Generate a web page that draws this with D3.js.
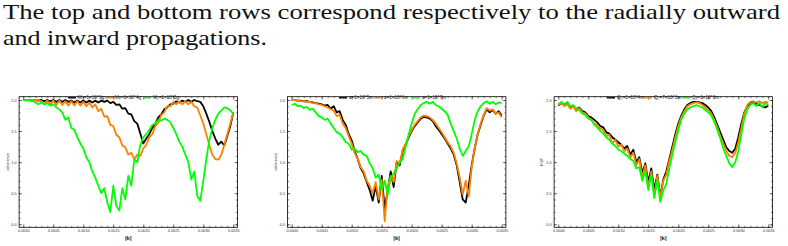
<!DOCTYPE html>
<html><head><meta charset="utf-8">
<script src="https://cdn.jsdelivr.net/npm/d3@7"></script>
<style>
html,body{margin:0;padding:0;background:#fff;}
svg{display:block;}
.caption{font-family:"Liberation Serif","DejaVu Serif","Noto Serif","Times New Roman",Times,Tinos,FreeSerif,"Nimbus Roman","Nimbus Roman No9 L",Georgia,serif;}
.small{font-family:"Liberation Sans","DejaVu Sans",sans-serif;}
</style></head>
<body>
<svg id="chart" width="788" height="246"></svg>
<script>
// ---------------- DATA ----------------
const captionLines = [
  "The top and bottom rows correspond respectively to the radially outward",
  "and inward propagations."
];
const kValues = [0,0.00005,0.0001,0.00015,0.0002,0.00025,0.0003,0.00035,0.0004,0.00045,
 0.0005,0.00055,0.0006,0.00065,0.0007,0.00075,0.0008,0.00085,0.0009,0.00095,
 0.001,0.00105,0.0011,0.00115,0.0012,0.00125,0.0013,0.00135,0.0014,0.00145,
 0.0015,0.00155,0.0016,0.00165,0.0017,0.00175,0.0018,0.00185,0.0019,0.00195,
 0.002,0.00205,0.0021,0.00215,0.0022,0.00225,0.0023,0.00235,0.0024,0.00245,
 0.0025,0.00255,0.0026,0.00265,0.0027,0.00275,0.0028,0.00285,0.0029,0.00295,
 0.003,0.00305,0.0031,0.00315,0.0032,0.00325,0.0033,0.00335,0.0034,0.00345,0.0035];

const xTickValues = [0,0.0005,0.001,0.0015,0.002,0.0025,0.003,0.0035];
const xTickLabels = ["0.0000","0.0005","0.0010","0.0015","0.0020","0.0025","0.0030","0.0035"];
const yTickValues = [0,0.5,1,1.5,2];
const yTickLabels = ["0.0","0.5","1.0","1.5","2.0"];

const seriesColors = ["#000000","#ff8000","#00ff00"];

// Panel 1 : mass
const p1Names = ["M\u2080=1\u00d710^3g","M\u2080=1\u00d710^4g","M\u2080=1\u00d710^5g"];
const p1Black = [2.00,2.00,2.00,1.99,2.00,1.99,2.00,1.98,2.00,1.98,2.00,1.97,2.00,1.97,2.00,1.97,1.99,1.96,1.99,1.96,
 1.99,1.96,1.99,1.96,1.99,1.96,1.99,1.97,1.99,1.95,1.97,1.92,1.93,1.86,1.87,1.78,1.77,1.66,1.62,1.46,
 1.30,1.38,1.45,1.55,1.62,1.72,1.77,1.85,1.88,1.93,1.94,1.98,1.96,1.99,1.97,2.00,1.97,2.00,1.98,1.97,
 1.90,1.78,1.65,1.50,1.38,1.28,1.33,1.27,1.42,1.58,1.80];
const p1Orange = [2.00,1.99,2.00,1.99,2.00,1.99,1.98,1.93,1.99,1.93,1.99,1.92,1.99,1.92,1.98,1.91,1.98,1.91,1.98,1.91,
 1.97,1.90,1.96,1.88,1.93,1.82,1.86,1.73,1.74,1.60,1.58,1.44,1.40,1.27,1.24,1.12,1.15,1.05,1.12,1.10,
 1.22,1.28,1.40,1.45,1.58,1.63,1.76,1.80,1.90,1.90,1.97,1.93,1.98,1.93,1.98,1.93,1.97,1.90,1.88,1.75,
 1.62,1.45,1.28,1.12,1.05,1.04,1.12,1.28,1.45,1.62,1.80];
const p1Green = [2.00,2.00,2.00,1.99,1.96,1.93,1.96,1.93,1.95,1.91,1.93,1.88,1.85,1.80,1.68,1.72,1.55,1.52,1.40,1.30,
 1.22,1.08,1.00,0.85,0.75,0.62,0.50,0.58,0.35,0.20,0.62,0.30,0.22,0.58,0.40,0.78,0.62,1.05,1.00,1.28,
 1.40,1.45,1.52,1.60,1.62,1.68,1.67,1.70,1.68,1.64,1.55,1.45,1.33,1.25,1.12,1.00,0.72,0.85,0.45,0.38,
 0.70,1.05,1.35,1.55,1.68,1.78,1.83,1.88,1.87,1.83,1.78];

// Panel 2 : size
const p2Names = ["a=1\u00d710^5m","a=1\u00d710^6m","a=1\u00d710^7m"];
const p2Black = [2.00,2.00,1.99,1.99,1.98,1.98,1.97,1.96,1.95,1.94,1.93,1.91,1.92,1.86,1.90,1.80,1.82,1.68,1.60,1.45,
 1.35,1.18,1.05,0.90,0.82,0.68,0.55,0.38,0.62,0.35,0.78,0.25,0.55,0.85,0.60,1.00,0.95,1.18,1.28,1.40,
 1.50,1.58,1.64,1.70,1.73,1.72,1.70,1.66,1.58,1.52,1.45,1.38,1.30,1.22,1.12,0.95,0.68,0.40,0.35,0.62,
 0.95,1.22,1.45,1.60,1.75,1.85,1.80,1.84,1.78,1.82,1.75];
const p2Orange = [2.00,2.00,1.99,1.98,1.98,1.97,1.97,1.95,1.95,1.93,1.92,1.90,1.88,1.85,1.83,1.74,1.76,1.62,1.55,1.42,
 1.30,1.15,1.05,0.92,0.85,0.70,0.62,0.50,0.68,0.40,0.72,0.05,0.60,0.78,0.68,1.02,0.98,1.20,1.30,1.42,
 1.52,1.60,1.66,1.72,1.75,1.74,1.72,1.68,1.62,1.55,1.48,1.40,1.32,1.25,1.15,0.98,0.75,0.48,0.70,0.45,
 0.92,1.22,1.45,1.62,1.76,1.87,1.83,1.85,1.78,1.80,1.72];
const p2Green = [1.92,1.94,1.90,1.91,1.87,1.89,1.84,1.86,1.80,1.74,1.72,1.68,1.70,1.62,1.55,1.48,1.46,1.40,1.32,1.30,
 1.20,1.22,1.16,1.18,1.12,1.10,0.98,0.90,0.75,0.80,0.55,0.70,0.48,0.75,0.82,0.90,1.00,1.05,1.25,1.45,
 1.62,1.78,1.85,1.92,1.95,1.97,1.94,1.97,1.92,1.90,1.86,1.82,1.76,1.62,1.50,1.38,1.22,1.10,1.18,1.25,
 1.45,1.68,1.82,1.90,1.95,1.98,1.94,1.97,1.93,1.96,1.95];

// Panel 3 : distance
const p3Names = ["Q\u2080=1\u00d710^4m","Q\u2080=7\u00d710^3m","Q\u2080=1\u00d710^3m"];
const p3Black = [1.91,1.95,1.92,1.94,1.88,1.90,1.85,1.88,1.82,1.80,1.74,1.72,1.68,1.64,1.58,1.56,1.48,1.46,1.40,1.36,
 1.32,1.28,1.22,1.26,1.12,1.20,1.00,1.08,0.82,0.98,0.68,0.90,0.55,0.80,0.45,0.72,0.85,1.05,1.25,1.45,
 1.62,1.75,1.85,1.92,1.95,1.97,1.97,1.96,1.95,1.92,1.88,1.82,1.72,1.60,1.48,1.36,1.24,1.18,1.15,1.22,
 1.40,1.62,1.80,1.90,1.96,1.97,1.94,1.92,1.90,1.88,1.91];
const p3Orange = [1.92,1.95,1.90,1.93,1.86,1.90,1.82,1.87,1.80,1.78,1.72,1.68,1.62,1.60,1.54,1.52,1.42,1.44,1.30,1.36,
 1.25,1.28,1.18,1.22,1.08,1.15,0.95,1.05,0.75,0.95,0.60,0.85,0.45,0.78,0.42,0.70,0.80,1.02,1.20,1.40,
 1.58,1.72,1.82,1.90,1.93,1.95,1.96,1.95,1.92,1.88,1.84,1.78,1.68,1.56,1.42,1.30,1.18,1.10,1.08,1.15,
 1.32,1.55,1.78,1.92,1.97,1.98,1.96,1.98,1.95,1.97,1.96];
const p3Green = [1.93,1.97,1.93,1.97,1.90,1.92,1.86,1.84,1.78,1.76,1.70,1.68,1.60,1.56,1.50,1.46,1.40,1.36,1.30,1.26,
 1.20,1.18,1.14,1.10,1.05,1.02,0.90,0.92,0.70,0.85,0.55,0.80,0.42,0.72,0.36,0.55,0.65,0.90,1.12,1.32,
 1.52,1.68,1.78,1.85,1.88,1.90,1.92,1.90,1.88,1.84,1.80,1.75,1.65,1.52,1.38,1.22,1.10,0.98,0.92,1.00,
 1.18,1.45,1.70,1.85,1.92,1.95,1.90,1.96,1.88,1.95,1.92];

const xLabels = ["|k|","|k|","|k|"];
const yLabels = ["coherence","coherence","EGP"];

// ---------------- LAYOUT ----------------
const panels = [
  {x0:23.3, x1:233.3, names:p1Names, series:[p1Black,p1Orange,p1Green], legendX:[68,105,143], xl:xLabels[0], yl:yLabels[0], ylx:9},
  {x0:291.7, x1:501.7, names:p2Names, series:[p2Black,p2Orange,p2Green], legendX:[339,374,412], xl:xLabels[1], yl:yLabels[1], ylx:277},
  {x0:558.3, x1:768.3, names:p3Names, series:[p3Black,p3Orange,p3Green], legendX:[607,644,682], xl:xLabels[2], yl:yLabels[2], ylx:543}
];
const yTop = 100, yBot = 224.3;        // pixel positions of 2.0 and 0.0
const frameTop = 96.7, frameBot = 227.3;
const pad = 4.2;

const svg = d3.select("#chart");
svg.append("rect").attr("width",788).attr("height",246).attr("fill","#fff");

// caption
svg.selectAll("text.caption").data(captionLines).join("text")
  .attr("class","caption")
  .attr("x",3)
  .attr("y",(d,i)=> i===0 ? 19 : 45)
  .attr("font-size",22)
  .attr("fill","#111")
  .attr("textLength",(d,i)=> i===0 ? 777 : 264)
  .attr("lengthAdjust","spacingAndGlyphs")
  .text(d=>d);

const minorX = d3.range(0, 0.00351, 0.0001);
const minorY = d3.range(0, 2.01, 0.1);

panels.forEach(p=>{
  const x = d3.scaleLinear().domain([0,0.0035]).range([p.x0,p.x1]);
  const y = d3.scaleLinear().domain([0,2]).range([yBot,yTop]);
  const fl = p.x0 - pad, fr = p.x1 + pad;
  const g = svg.append("g");

  const line = d3.line().x((d,i)=>x(kValues[i])).y(d=>y(d));
  p.series.forEach((s,si)=>{
    g.append("path").datum(s)
      .attr("fill","none")
      .attr("stroke",seriesColors[si])
      .attr("stroke-width",1.8)
      .attr("stroke-linejoin","round")
      .attr("d",line);
  });

  function styleAxis(sel){
    sel.select(".domain").remove();
    sel.selectAll("line").attr("stroke","#000").attr("stroke-width",0.5);
    sel.selectAll("text").attr("class","small").attr("font-family",null).attr("font-size",3.8).attr("fill","#333");
  }
  g.append("g").attr("transform",`translate(0,${frameBot})`)
    .call(d3.axisBottom(x).tickValues(xTickValues).tickFormat((d,i)=>xTickLabels[i]).tickSize(-3).tickPadding(2.5))
    .call(styleAxis);
  g.append("g").attr("transform",`translate(0,${frameBot})`)
    .call(d3.axisBottom(x).tickValues(minorX).tickFormat("").tickSize(-1.5))
    .call(styleAxis);
  g.append("g").attr("transform",`translate(0,${frameTop})`)
    .call(d3.axisTop(x).tickValues(xTickValues).tickFormat("").tickSize(-3))
    .call(styleAxis);
  g.append("g").attr("transform",`translate(0,${frameTop})`)
    .call(d3.axisTop(x).tickValues(minorX).tickFormat("").tickSize(-1.5))
    .call(styleAxis);
  g.append("g").attr("transform",`translate(${fl},0)`)
    .call(d3.axisLeft(y).tickValues(yTickValues).tickFormat((d,i)=>yTickLabels[i]).tickSize(-3).tickPadding(2.5))
    .call(styleAxis);
  g.append("g").attr("transform",`translate(${fl},0)`)
    .call(d3.axisLeft(y).tickValues(minorY).tickFormat("").tickSize(-1.5))
    .call(styleAxis);
  g.append("g").attr("transform",`translate(${fr},0)`)
    .call(d3.axisRight(y).tickValues(yTickValues).tickFormat("").tickSize(-3))
    .call(styleAxis);
  g.append("g").attr("transform",`translate(${fr},0)`)
    .call(d3.axisRight(y).tickValues(minorY).tickFormat("").tickSize(-1.5))
    .call(styleAxis);

  g.append("rect").attr("x",fl).attr("y",frameTop).attr("width",fr-fl).attr("height",frameBot-frameTop)
    .attr("fill","none").attr("stroke","#000").attr("stroke-width",0.8);

  p.names.forEach((n,i)=>{
    const lx = p.legendX[i];
    g.append("line").attr("x1",lx).attr("x2",lx+8).attr("y1",97.8).attr("y2",97.8)
      .attr("stroke",seriesColors[i]).attr("stroke-width",1.4);
    g.append("text").attr("class","small").attr("x",lx+10).attr("y",99.4)
      .attr("font-size",4.6).attr("fill","#222")
      .text(n);
  });

  g.append("text").attr("class","small").attr("x",(fl+fr)/2).attr("y",240).attr("text-anchor","middle")
    .attr("font-size",6).attr("font-weight","bold")
    .attr("fill","#222").text(p.xl);
  g.append("text").attr("class","small").attr("transform",`translate(${p.ylx},${(frameTop+frameBot)/2}) rotate(-90)`)
    .attr("text-anchor","middle")
    .attr("font-size",3.8)
    .attr("fill","#333").text(p.yl);
});
</script>
</body></html>
